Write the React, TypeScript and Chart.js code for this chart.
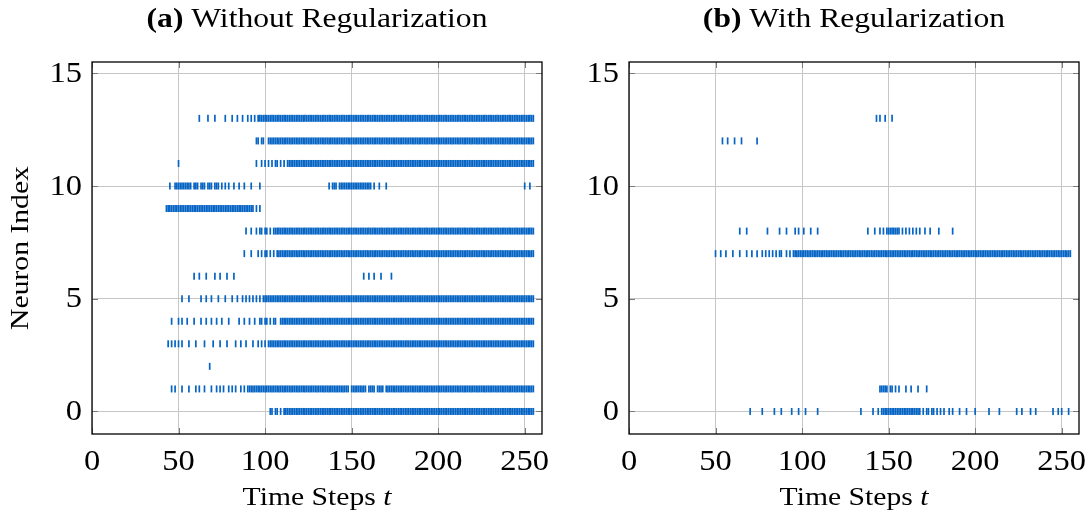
import React, { useEffect, useRef } from "react";
import { Chart, registerables } from "chart.js";
Chart.register(...registerables);

// ---------- data (spike times; a pair [a, b] means a spike at every step a..b) ----------
type Run = number | [number, number];

const xTicks = [0, 50, 100, 150, 200, 250];
const yTicks = [0, 5, 10, 15];
const xRange = [0, 260];
const yRange = [-1, 15.5];

// (a) Without Regularization
const noReg0: Run[] = [103, 104, 106, 107, 109, [111, 255]];
const noReg1: Run[] = [46, 48, 52, 56, 60, 62, 65, 69, 72, 74, 76, 79, 81, 83, 86, 88, [90, 148], [150, 158], [160, 163], [165, 168], [170, 255]];
const noReg2: Run[] = [68];
const noReg3: Run[] = [44, 46, 48, 50, 52, 56, 60, 65, 70, 74, 78, 83, 86, 89, 93, 96, 98, 100, [102, 255]];
const noReg4: Run[] = [46, 50, 52, 55, 59, 63, 66, 69, 72, 75, 79, 85, 88, 91, 94, 97, 98, 100, 101, 103, 105, 106, [109, 255]];
const noReg5: Run[] = [52, 56, 63, 66, 69, 73, 77, 81, 84, 87, 89, 91, 93, 95, 97, [99, 255]];
const noReg6: Run[] = [59, 62, 66, 71, 74, 78, 82, 157, 160, 163, 167, 173];
const noReg7: Run[] = [88, 92, 96, 98, 100, 101, 103, 105, [107, 255]];
const noReg8: Run[] = [89, 92, 95, 97, 98, 100, 101, 103, [105, 255]];
const noReg9: Run[] = [[43, 93], 95, 97];
const noReg10: Run[] = [45, [48, 57], 59, 60, 61, 63, 64, 65, 67, 68, 69, 71, 72, 73, 75, 77, 79, 82, 85, 88, 92, 97, 137, [139, 141], [143, 161], 163, 166, 170, 250, 253];
const noReg11: Run[] = [50, 95, 98, 100, 102, 104, 106, 107, 109, 111, [113, 255]];
const noReg12: Run[] = [95, 96, 98, 99, [102, 255]];
const noReg13: Run[] = [62, 67, 71, 77, 81, 84, 87, 90, 92, 94, [96, 255]];

// (b) With Regularization
const reg0: Run[] = [70, 77, 84, 88, 94, 98, 102, 109, 134, 141, 144, [146, 168], 170, 172, 173, 175, 176, 178, 180, 182, 185, 187, 191, 195, 200, 208, 214, 224, 227, 232, 235, 245, 248, 250, 254];
const reg1: Run[] = [145, 146, 147, 148, 149, 151, 152, 154, 156, 160, 163, 167, 172];
const reg7: Run[] = [50, 53, 56, 60, 64, 68, 71, 74, 77, 79, 81, 83, 85, 87, 88, 91, 93, [95, 255]];
const reg8: Run[] = [64, 68, 80, 87, 91, 96, 98, 101, 105, 109, 138, 142, 145, 147, [149, 156], 158, 160, 162, 164, 166, 168, 171, 174, 179, 187];
const reg12: Run[] = [54, 57, 61, 65, 74];
const reg13: Run[] = [143, 145, 148, 152];

const noRegNeurons: Run[][] = [noReg0, noReg1, noReg2, noReg3, noReg4, noReg5, noReg6, noReg7, noReg8, noReg9, noReg10, noReg11, noReg12, noReg13];
const regNeurons: Run[][] = [reg0, reg1, [], [], [], [], [], reg7, reg8, [], [], [], reg12, reg13];

// ---------- styling ----------
const FONT = '"Liberation Serif", "Times New Roman", serif';
const SPIKE = "rgb(6, 100, 196)";
const TICK_SIZE = 29;
const LABEL_SIZE = 26;
const TITLE_SIZE = 27;
const STRETCH_TITLE = 1.17;
const STRETCH_LABEL = 1.14;
const STRETCH_TICK = 1.12;

function toPoints(neurons: Run[][]) {
  const pts: { x: number; y: number }[] = [];
  neurons.forEach((runs, idx) => {
    runs.forEach((r) => {
      if (typeof r === "number") pts.push({ x: r, y: idx });
      else for (let t = r[0]; t <= r[1]; t++) pts.push({ x: t, y: idx });
    });
  });
  return pts;
}

// draw a sequence of [text, font] pieces anchored at (ax, y), horizontally stretched by sx
function drawPieces(ctx: CanvasRenderingContext2D, pieces: [string, string][], ax: number, y: number, sx: number, align: "center" | "right" = "center") {
  let total = 0;
  const widths = pieces.map(([t, f]) => {
    ctx.font = f;
    const w = ctx.measureText(t).width;
    total += w;
    return w;
  });
  ctx.save();
  ctx.translate(ax, y);
  ctx.scale(sx, 1);
  let x = align === "center" ? -total / 2 : -total;
  ctx.textAlign = "left";
  pieces.forEach(([t, f], i) => {
    ctx.font = f;
    ctx.fillText(t, x, 0);
    x += widths[i];
  });
  ctx.restore();
}

const annotatePlugin = {
  id: "annotate",
  afterDraw(chart: any, _args: any, opts: any) {
    const { ctx, chartArea } = chart;
    const { left, right, top, bottom } = chartArea;
    const xs = chart.scales.x;
    const ys = chart.scales.y;
    ctx.save();
    // inner tick marks
    ctx.strokeStyle = "#7a7a7a";
    ctx.lineWidth = 1;
    ctx.beginPath();
    for (const v of xTicks) {
      const px = Math.round(xs.getPixelForValue(v)) + 0.5;
      ctx.moveTo(px, bottom);
      ctx.lineTo(px, bottom - 6);
      ctx.moveTo(px, top);
      ctx.lineTo(px, top + 6);
    }
    for (const v of yTicks) {
      const py = Math.round(ys.getPixelForValue(v)) + 0.5;
      ctx.moveTo(left, py);
      ctx.lineTo(left + 6, py);
      ctx.moveTo(right, py);
      ctx.lineTo(right - 6, py);
    }
    ctx.stroke();
    // frame
    ctx.strokeStyle = "#000";
    ctx.lineWidth = 1.3;
    ctx.strokeRect(left, top, right - left, bottom - top);
    ctx.fillStyle = "#000";
    // tick labels
    const tickFont = `${TICK_SIZE}px ${FONT}`;
    ctx.textBaseline = "alphabetic";
    for (const v of xTicks) {
      drawPieces(ctx, [[String(v), tickFont]], xs.getPixelForValue(v), bottom + 36, STRETCH_TICK);
    }
    ctx.textBaseline = "middle";
    for (const v of yTicks) {
      drawPieces(ctx, [[String(v), tickFont]], left - 10, ys.getPixelForValue(v) + 1, STRETCH_TICK, "right");
    }
    // title
    ctx.textBaseline = "alphabetic";
    const cx = (left + right) / 2;
    drawPieces(ctx, [[opts.tag, `bold ${TITLE_SIZE}px ${FONT}`], [opts.title, `${TITLE_SIZE}px ${FONT}`]], cx, 27, STRETCH_TITLE);
    // x label
    drawPieces(ctx, [[opts.xLabel, `${LABEL_SIZE}px ${FONT}`], [opts.xLabelVar, `italic ${LABEL_SIZE}px ${FONT}`]], cx, 505, STRETCH_LABEL);
    // y label
    if (opts.yLabel) {
      ctx.save();
      ctx.translate(opts.yLabelX, (top + bottom) / 2);
      ctx.rotate(-Math.PI / 2);
      ctx.textBaseline = "middle";
      drawPieces(ctx, [[opts.yLabel, `${LABEL_SIZE}px ${FONT}`]], 0, 0, STRETCH_LABEL);
      ctx.restore();
    }
    ctx.restore();
  },
};

function makeConfig(neurons: Run[][], tag: string, title: string, yAxisWidth: number, rightPad: number, yLabel: string | null) {
  return {
    type: "scatter" as const,
    data: {
      datasets: [
        {
          data: toPoints(neurons),
          pointStyle: "line" as const,
          rotation: 90,
          radius: 3.5,
          hoverRadius: 3.5,
          borderWidth: 1.7,
          borderColor: SPIKE,
          backgroundColor: SPIKE,
        },
      ],
    },
    options: {
      responsive: false,
      animation: false as const,
      layout: { padding: { top: 62, left: 0, right: rightPad, bottom: 0 } },
      plugins: {
        legend: { display: false },
        tooltip: { enabled: false },
        annotate: { tag, title, xLabel: "Time Steps ", xLabelVar: "t", yLabel, yLabelX: 21 },
      },
      scales: {
        x: {
          type: "linear" as const,
          min: xRange[0],
          max: xRange[1],
          afterBuildTicks: (axis: any) => {
            axis.ticks = xTicks.map((v) => ({ value: v }));
          },
          afterFit: (axis: any) => {
            axis.height = 82;
          },
          grid: { color: "#c6c6c6", lineWidth: 1, drawTicks: false },
          border: { display: false },
          ticks: { display: false },
        },
        y: {
          type: "linear" as const,
          min: yRange[0],
          max: yRange[1],
          afterBuildTicks: (axis: any) => {
            axis.ticks = yTicks.map((v) => ({ value: v }));
          },
          afterFit: (axis: any) => {
            axis.width = yAxisWidth;
          },
          grid: { color: "#c6c6c6", lineWidth: 1, drawTicks: false },
          border: { display: false },
          ticks: { display: false },
        },
      },
    },
    plugins: [annotatePlugin],
  };
}

export default function App() {
  const leftRef = useRef<HTMLCanvasElement>(null);
  const rightRef = useRef<HTMLCanvasElement>(null);

  useEffect(() => {
    document.body.style.margin = "0";
    const c1 = new Chart(leftRef.current as HTMLCanvasElement, makeConfig(noRegNeurons, "(a)", " Without Regularization", 92, 18, "Neuron Index") as any);
    const c2 = new Chart(rightRef.current as HTMLCanvasElement, makeConfig(regNeurons, "(b)", " With Regularization", 69, 8, null) as any);
    return () => {
      c1.destroy();
      c2.destroy();
    };
  }, []);

  return (
    <div style={{ position: "relative", width: 1087, height: 516, background: "#fff" }}>
      <canvas ref={leftRef} width={560} height={516} style={{ position: "absolute", left: 0, top: 0 }} />
      <canvas ref={rightRef} width={527} height={516} style={{ position: "absolute", left: 560, top: 0 }} />
    </div>
  );
}
